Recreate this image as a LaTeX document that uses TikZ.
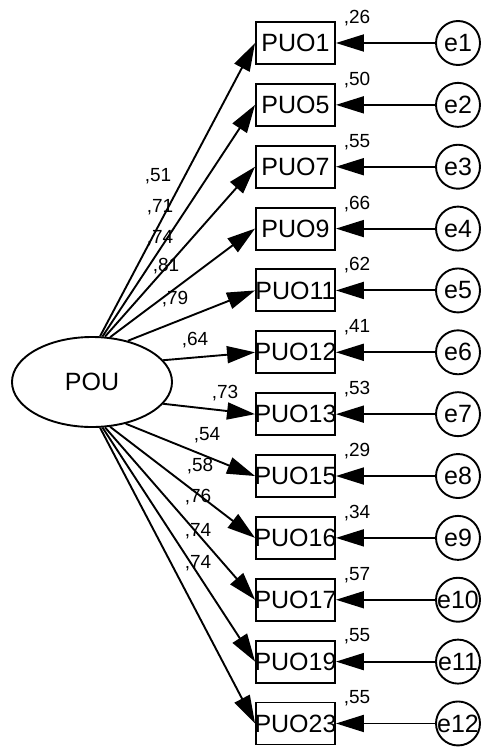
\documentclass[tikz,border=0pt]{standalone}
\usepackage{fontspec}
\setmainfont{Liberation Sans}
\usetikzlibrary{shapes.geometric,arrows.meta}
\begin{document}
\begin{tikzpicture}[x=1pt,y=-1pt,
  obs/.style={draw,line width=1.9pt,minimum width=79pt,minimum height=42pt,inner sep=0pt,font=\fontsize{25}{25}\selectfont},
  err/.style={draw,circle,line width=1.9pt,minimum size=44pt,inner sep=0pt,font=\fontsize{25}{25}\selectfont},
  lat/.style={draw,ellipse,line width=1.9pt,minimum width=160pt,minimum height=90pt,inner sep=0pt,font=\fontsize{25}{25}\selectfont},
  lbl/.style={inner sep=0pt,font=\fontsize{19}{19}\selectfont},
  conn/.style={line width=1.9pt,-{Triangle[length=28pt,width=17pt]}}]
\useasboundingbox (0,0) rectangle (481,747);
\node[lat] (pou) at (92,382) {POU};
\foreach \n/\r/\l/\lx/\ly/\a [count=\k] in {
  PUO1/{,26}/{,51}/158/176/80,
  PUO5/{,50}/{,71}/160/207/77,
  PUO7/{,55}/{,74}/160/238/74,
  PUO9/{,66}/{,81}/166/266/68,
  PUO11/{,62}/{,79}/175/299/49,
  PUO12/{,41}/{,64}/195/340/17,
  PUO13/{,53}/{,73}/225/393/-17,
  PUO15/{,29}/{,54}/207/435/-51,
  PUO16/{,34}/{,58}/200/466/-68,
  PUO17/{,57}/{,76}/198/497/-74,
  PUO19/{,55}/{,74}/198/531/-77,
  PUO23/{,55}/{,74}/198/563/-80}{
  \pgfmathsetmacro{\cy}{43+(\k-1)*61.86}
  \node[obs] (b\k) at (295.5,\cy) {\makebox[0pt]{\n}};
  \node[err] (e\k) at (458,\cy) {\makebox[0pt]{e\k}};
  \node[lbl] (r\k) at (357,\cy-25) {\r};
  \node[lbl] (l\k) at (\lx,\ly) {\l};
  \draw[conn] (pou.\a) -- (b\k.west);
  \draw[conn] (e\k) -- (b\k.east);
}
\end{tikzpicture}
\end{document}
